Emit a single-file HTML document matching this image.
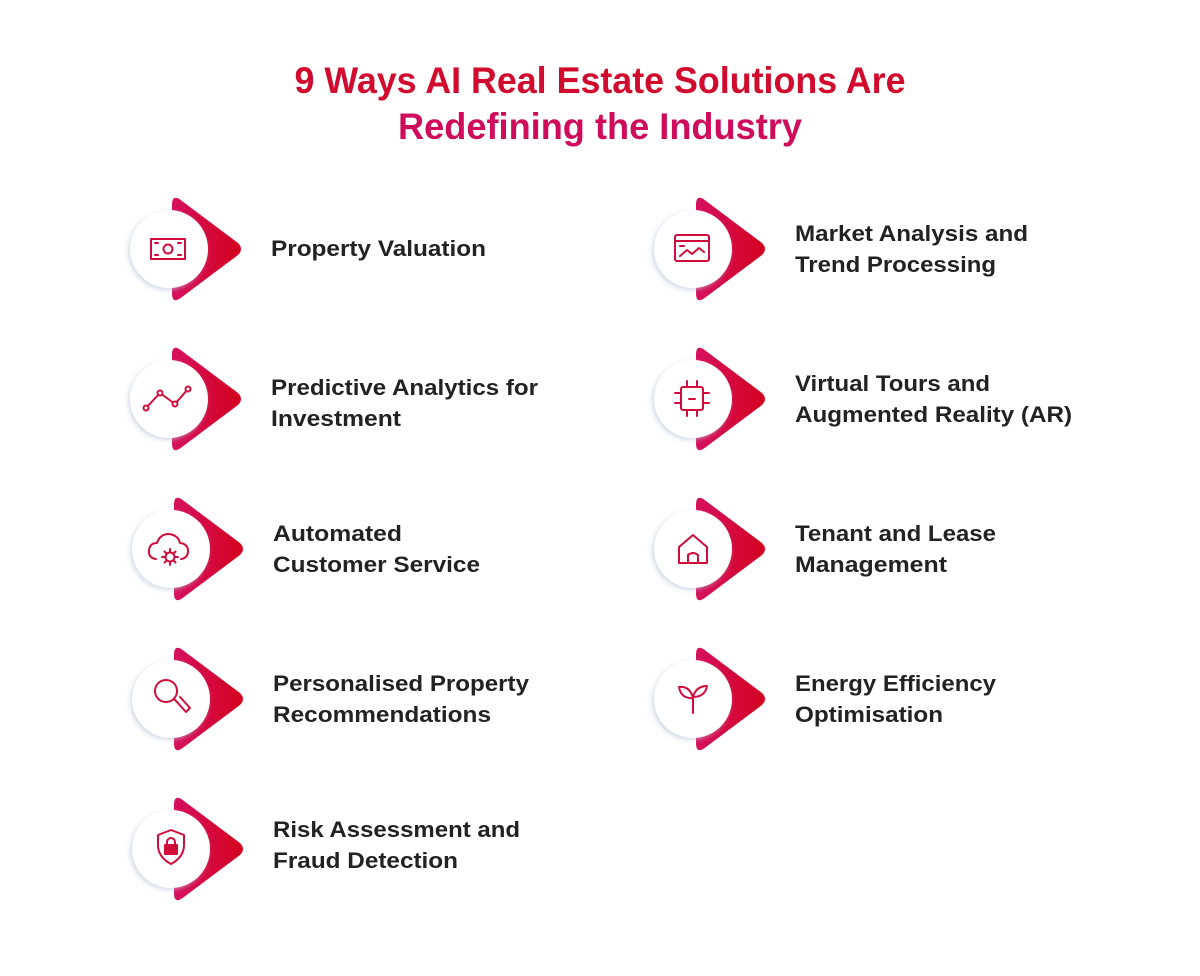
<!DOCTYPE html>
<html><head><meta charset="utf-8"><style>
html,body{margin:0;padding:0;background:#fff}
svg{display:block}
text{font-family:"Liberation Sans",Arial,sans-serif;font-weight:bold}
</style></head><body>
<svg width="1200" height="976" viewBox="0 0 1200 976" xmlns="http://www.w3.org/2000/svg">
<defs>
<linearGradient id="tg" x1="0" y1="0" x2="1" y2="0">
<stop offset="0" stop-color="#d6105f"/><stop offset="1" stop-color="#d3021e"/>
</linearGradient>
<filter id="sh" x="-30%" y="-30%" width="160%" height="160%">
<feDropShadow dx="-2" dy="2" stdDeviation="2.5" flood-color="#b8c2d8" flood-opacity="0.6"/>
</filter>
<g id="badge" stroke="none">
<path d="M0,-44 Q0,-56 10,-48 L66,-6 Q72,0 66,6 L10,48 Q0,56 0,44 Z" fill="url(#tg)" stroke="none"/>
<circle cx="-3" cy="0" r="39" fill="#fff" stroke="none" filter="url(#sh)"/>
</g>
</defs>
<text x="600" y="93" font-size="37" text-anchor="middle" fill="#d00b2d" textLength="611" lengthAdjust="spacingAndGlyphs">9 Ways AI Real Estate Solutions Are</text>
<text x="600" y="139" font-size="37" text-anchor="middle" fill="#cf0c5c" textLength="404" lengthAdjust="spacingAndGlyphs">Redefining the Industry</text>

<use href="#badge" x="172" y="249"/>
<use href="#badge" x="172" y="399"/>
<use href="#badge" x="174" y="549"/>
<use href="#badge" x="174" y="699"/>
<use href="#badge" x="174" y="849"/>
<use href="#badge" x="696" y="249"/>
<use href="#badge" x="696" y="399"/>
<use href="#badge" x="696" y="549"/>
<use href="#badge" x="696" y="699"/>

<g fill="none" stroke="#d00d3a" stroke-width="2" stroke-linecap="round" stroke-linejoin="round">
<rect x="151" y="239" width="34" height="20"/>
<circle cx="168" cy="249" r="4.5"/>
<path d="M155,243 h3 M155,255 h3 M178,255 h3 M178,243 h3"/>
<path d="M146,408 L160,393 L175,404 L188,389"/>
<circle cx="146" cy="408" r="2.5" fill="#fff"/><circle cx="160" cy="393" r="2.5" fill="#fff"/><circle cx="175" cy="404" r="2.5" fill="#fff"/><circle cx="188" cy="389" r="2.5" fill="#fff"/>
<path d="M156,559 Q148,558 149,550 Q150,543 157,543 Q160,534 169,534 Q178,535 180,543 Q188,544 188,551 Q188,558 181,559"/>
<circle cx="170" cy="557" r="4.5"/>
<path d="M170,549 v3 M170,562 v3 M162,557 h3 M175,557 h3 M164.5,551.5 l2,2 M173.5,560.5 l2,2 M175.5,551.5 l-2,2 M166.5,560.5 l-2,2"/>
<circle cx="166" cy="691" r="11"/>
<path d="M174,699 L178,703 M176,701 L186,712 L190,708 L180,697"/>
<path d="M171,830 L158,835 V845 Q158,857 171,864 Q184,857 184,845 V835 Z"/>
<rect x="165" y="845" width="12" height="9" fill="#d00d3a"/>
<path d="M167,845 v-3 a4,4 0 0 1 8,0 v3"/>
<rect x="675" y="235" width="34" height="26" rx="2"/>
<path d="M675,241 h34 M680,256 l7,-6 l5,4 l7,-6 l5,4 M680,246 h4"/>
<rect x="681" y="387" width="22" height="23" rx="2"/>
<path d="M689,399 h6 M687,381 v6 M697,381 v6 M687,410 v6 M697,410 v6 M675,393 h6 M675,403 h6 M703,393 h6 M703,403 h6"/>
<path d="M679,547 L693,535 L707,547 V563 H679 Z M688,563 V555 Q693,551 698,555 V563"/>
<path d="M693,713 V697 M693,698 Q681,699 679,687 Q690,686 693,698 M693,697 Q696,686 707,686 Q705,697 693,697"/>
</g>

<g fill="#222" font-size="22">
<text x="271" y="256" textLength="215" lengthAdjust="spacingAndGlyphs">Property Valuation</text>
<text x="271" y="395" textLength="267" lengthAdjust="spacingAndGlyphs">Predictive Analytics for</text>
<text x="271" y="426" textLength="130" lengthAdjust="spacingAndGlyphs">Investment</text>
<text x="273" y="541" textLength="129" lengthAdjust="spacingAndGlyphs">Automated</text>
<text x="273" y="572" textLength="207" lengthAdjust="spacingAndGlyphs">Customer Service</text>
<text x="273" y="691" textLength="256" lengthAdjust="spacingAndGlyphs">Personalised Property</text>
<text x="273" y="722" textLength="218" lengthAdjust="spacingAndGlyphs">Recommendations</text>
<text x="273" y="837" textLength="247" lengthAdjust="spacingAndGlyphs">Risk Assessment and</text>
<text x="273" y="868" textLength="185" lengthAdjust="spacingAndGlyphs">Fraud Detection</text>
<text x="795" y="241" textLength="233" lengthAdjust="spacingAndGlyphs">Market Analysis and</text>
<text x="795" y="272" textLength="201" lengthAdjust="spacingAndGlyphs">Trend Processing</text>
<text x="795" y="391" textLength="195" lengthAdjust="spacingAndGlyphs">Virtual Tours and</text>
<text x="795" y="422" textLength="277" lengthAdjust="spacingAndGlyphs">Augmented Reality (AR)</text>
<text x="795" y="541" textLength="201" lengthAdjust="spacingAndGlyphs">Tenant and Lease</text>
<text x="795" y="572" textLength="152" lengthAdjust="spacingAndGlyphs">Management</text>
<text x="795" y="691" textLength="201" lengthAdjust="spacingAndGlyphs">Energy Efficiency</text>
<text x="795" y="722" textLength="148" lengthAdjust="spacingAndGlyphs">Optimisation</text>
</g>
</svg>
</body></html>
